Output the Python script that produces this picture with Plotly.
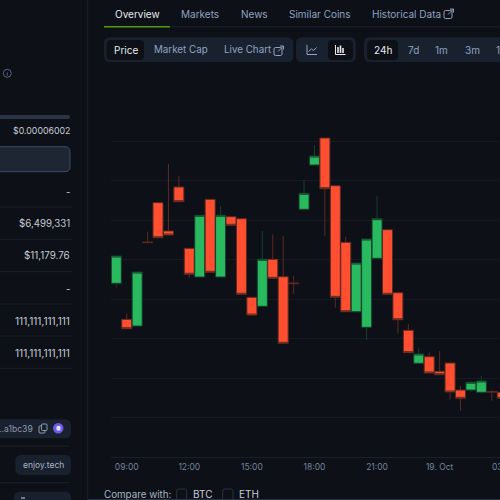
# 30 minute candles, top nav and the right edge of the side panel around them

import pandas as pd
import plotly.graph_objects as go

candle_times = pd.date_range('2023-10-18 08:30', periods=38, freq='30min')

# prices in chart units, one grid line every 40
opens = [176.1, 139.6, 132.8, 218.0, 257.9, 229.2, 273.8, 211.6, 182.5, 261.3,
         182.5, 243.7, 241.7, 161.9, 152.8, 200.5, 182.8, 176.5, 251.2, 296.1,
         323.5, 275.1, 217.7, 147.3, 131.5, 201.5, 230.5, 166.6, 128.5, 95.0,
         101.7, 86.9, 95.3, 67.9, 67.9, 65.6, 66.5, 65.6]
highs = [203.8, 145.7, 187.6, 228.5, 257.9, 297.1, 285.0, 211.6, 245.1, 261.3,
         254.5, 243.7, 241.7, 161.9, 229.2, 225.8, 224.1, 183.6, 280.9, 316.4,
         323.5, 275.1, 223.4, 196.7, 221.1, 265.0, 230.5, 166.6, 134.9, 110.2,
         105.8, 107.5, 95.3, 72.0, 75.8, 82.1, 67.9, 65.6]
lows = [171.7, 130.1, 132.8, 217.4, 222.4, 225.1, 258.9, 181.8, 182.5, 187.3,
        182.5, 235.0, 165.0, 144.0, 152.8, 181.2, 115.3, 165.3, 251.2, 296.1,
        224.1, 151.4, 147.3, 147.3, 118.6, 201.5, 165.0, 125.4, 105.8, 95.0,
        85.2, 83.5, 58.1, 47.0, 65.9, 65.6, 57.1, 59.5]
closes = [203.8, 130.1, 187.6, 217.4, 222.4, 225.1, 258.9, 185.3, 245.1, 187.3,
          245.1, 235.0, 165.0, 144.0, 200.5, 181.2, 115.3, 175.8, 267.4, 305.2,
          272.1, 161.9, 147.3, 196.7, 221.1, 241.7, 165.0, 139.2, 105.8, 104.5,
          85.2, 83.5, 65.9, 59.5, 75.8, 77.1, 65.9, 59.5]

tick_times = ['2023-10-18 09:00', '2023-10-18 12:00', '2023-10-18 15:00',
              '2023-10-18 18:00', '2023-10-18 21:00', '2023-10-19 00:00']
tick_labels = ['09:00', '12:00', '15:00', '18:00', '21:00', '19. Oct']

BG = '#0d1017'
PANEL = '#1a212e'
LINE = '#1b2029'
ICON = '#8fa3c2'
FONT = 'Inter, "Noto Sans", sans-serif'


def px(x):
    return x / 500


def py(y):
    return 1 - y / 500


def box(x0, y0, x1, y1, fill, r=0, stroke=None, width=1):
    # rounded rectangle given in screen pixels
    a0, a1, b0, b1 = px(x0), px(x1), py(y0), py(y1)
    rx, ry = r / 500, r / 500
    path = (f'M {a0 + rx} {b0} L {a1 - rx} {b0} Q {a1} {b0} {a1} {b0 - ry} '
            f'L {a1} {b1 + ry} Q {a1} {b1} {a1 - rx} {b1} L {a0 + rx} {b1} '
            f'Q {a0} {b1} {a0} {b1 + ry} L {a0} {b0 - ry} Q {a0} {b0} {a0 + rx} {b0} Z')
    return dict(type='path', path=path, xref='paper', yref='paper', fillcolor=fill,
                line=dict(color=stroke if stroke else fill, width=width if stroke else 0),
                layer='below')


def seg(x0, y0, x1, y1, color=LINE, width=1):
    return dict(type='line', x0=px(x0), y0=py(y0), x1=px(x1), y1=py(y1), xref='paper',
                yref='paper', line=dict(color=color, width=width), layer='below')


def label(x, y, text, color='#8fa3c2', size=10, anchor='left'):
    return dict(x=px(x), y=py(y), xref='paper', yref='paper', text=text, showarrow=False,
                xanchor=anchor, yanchor='middle', borderpad=0, borderwidth=0,
                font=dict(family=FONT, size=size, color=color))


def link_icon(x, y, color=ICON):
    return [box(x, y + 1.5, x + 8, y + 9.5, 'rgba(0,0,0,0)', 1.5, color, 1),
            seg(x + 4, y + 5.5, x + 9.5, y, color),
            seg(x + 6, y, x + 9.5, y, color),
            seg(x + 9.5, y, x + 9.5, y + 3.5, color)]


fig = go.Figure()
fig.add_trace(go.Candlestick(
    x=candle_times, open=opens, high=highs, low=lows, close=closes,
    increasing=dict(line=dict(color='#15412d', width=1), fillcolor='#29b95f'),
    decreasing=dict(line=dict(color='#5c2a20', width=1), fillcolor='#ff4f30'),
    whiskerwidth=0, showlegend=False,
))

shapes = [
    seg(87.7, 0, 87.7, 500),
    seg(104, 26.7, 500, 26.7),
    seg(104, 26.7, 170, 26.7, '#4f9a12', 1.6),
    # tool bar
    box(104, 37.3, 293.3, 62, PANEL, 6),
    box(106.7, 40, 144, 60, BG, 4),
    box(296, 37.3, 355.7, 62, PANEL, 6),
    box(328, 40, 353, 60, BG, 4),
    box(364, 37.3, 505, 62, PANEL, 6),
    box(367.3, 40, 398, 60, BG, 4),
    # line chart icon
    seg(307, 45, 307, 54.5, ICON), seg(307, 54.5, 317, 54.5, ICON),
    seg(308.5, 51.5, 311.5, 49, ICON), seg(311.5, 49, 313.5, 50.5, ICON),
    seg(313.5, 50.5, 316.5, 47.5, ICON),
    # candle icon
    seg(335.5, 45, 335.5, 54.5, '#e6e9ef'), seg(335.5, 54.5, 345.5, 54.5, '#e6e9ef'),
    seg(338, 47, 338, 53, '#e6e9ef', 1.6), seg(340.5, 45.5, 340.5, 53, '#e6e9ef', 1.6),
    seg(343, 48, 343, 53, '#e6e9ef', 1.6),
    # side panel
    box(-6, 115, 70, 119, '#2a3446', 2),
    box(-6, 146.7, 70, 171.7, '#1e2633', 5, '#3c4c69', 1),
    seg(0, 207, 72, 207), seg(0, 239.3, 72, 239.3), seg(0, 271.7, 72, 271.7),
    seg(0, 304, 72, 304), seg(0, 336, 72, 336), seg(0, 368.3, 72, 368.3),
    seg(0, 446, 70, 446), seg(0, 482.7, 70, 482.7),
    box(-6, 419.3, 71, 438.3, PANEL, 6),
    box(15.3, 455, 71, 475, PANEL, 6),
    box(14, 491.7, 71, 506, PANEL, 6),
    seg(21, 498, 25, 498, '#c6ccd6'),
    dict(type='circle', x0=px(3.3), y0=py(77.3), x1=px(11.3), y1=py(69.3), xref='paper',
         yref='paper', line=dict(color='#55657e', width=1), layer='below'),
    seg(7.3, 72.5, 7.3, 75.5, '#55657e'),
    # copy and chain icons
    box(39, 426, 45, 433, 'rgba(0,0,0,0)', 1, '#8d99ab', 1),
    box(41.5, 424, 47, 430.5, PANEL, 1, '#8d99ab', 1),
    dict(type='circle', x0=px(53), y0=py(433.5), x1=px(63.5), y1=py(423), xref='paper',
         yref='paper', fillcolor='#6d5be8', line=dict(width=0), layer='below'),
    box(56.5, 426, 60.5, 430.5, '#e4e2fb', 1),
    # compare row
    box(176.7, 489, 186.7, 505, BG, 2, '#2a3240', 1),
    box(222.7, 489, 233, 505, BG, 2, '#2a3240', 1),
    seg(88, 499.5, 500, 499.5, '#2a3240'),
]
shapes += link_icon(444, 9)
shapes += link_icon(274, 46)

annotations = [
    label(115.3, 14, 'Overview', '#e6e9ef'),
    label(181.3, 14, 'Markets'),
    label(240.7, 14, 'News'),
    label(289, 14, 'Similar Coins'),
    label(371.7, 14, 'Historical Data'),
    label(113.7, 50, 'Price', '#e6e9ef'),
    label(154, 50, 'Market Cap', size=9.8),
    label(223.7, 50, 'Live Chart', size=9.8),
    label(374, 50, '24h', '#e6e9ef'),
    label(408, 50, '7d'),
    label(435.3, 50, '1m'),
    label(464.7, 50, '3m'),
    label(495.7, 50, '1y'),
    label(70, 130, '$0.00006002', '#c6ccd6', 8.8, 'right'),
    label(70, 191.7, '-', '#c6ccd6', 9.5, 'right'),
    label(70, 223.3, '$6,499,331', '#c6ccd6', 9.7, 'right'),
    label(70, 255.7, '$11,179.76', '#c6ccd6', 9.8, 'right'),
    label(70, 288.3, '-', '#c6ccd6', 9.5, 'right'),
    label(70, 320.7, '111,111,111,111', '#c6ccd6', 10, 'right'),
    label(70, 352.7, '111,111,111,111', '#c6ccd6', 10, 'right'),
    label(32.5, 428.5, '..a1bc39', '#8d99ab', 8.6, 'right'),
    label(43, 465, 'enjoy.tech', '#a9b3c2', 8.5, 'center'),
    label(503.6, 466.7, '03:00', '#73829a', 8.5, 'center'),
    label(104, 494, 'Compare with:', '#a9b3c2', 9.8),
    label(193, 494, 'BTC', '#c6ccd6', 10),
    label(239, 494, 'ETH', '#c6ccd6', 10),
]

fig.update_layout(
    width=500, height=500, margin=dict(l=0, r=0, t=0, b=0),
    paper_bgcolor=BG, plot_bgcolor=BG, boxgap=0, boxgroupgap=0.04,
    shapes=shapes, annotations=annotations,
    xaxis=dict(domain=[px(111), 1], range=['2023-10-18 08:14:48', '2023-10-19 02:53:36'],
               tickmode='array', tickvals=tick_times, ticktext=tick_labels,
               tickfont=dict(family=FONT, size=8.5, color='#73829a'), ticks='', ticklabelstandoff=2,
               showgrid=False, showline=True, linecolor='#1a1f28', linewidth=1,
               rangeslider=dict(visible=False), zeroline=False),
    yaxis=dict(domain=[py(457), py(102)], range=[0, 360], dtick=40, showticklabels=False,
               gridcolor='#161a22', gridwidth=1, zeroline=False, ticks=''),
)

# opacity just under 1 keeps the small labels grey instead of colour fringed
fig.write_html('out.html', config=dict(displayModeBar=False),
               post_script="document.body.style.margin='0';document.body.style.background='#0d1017';document.body.style.overflow='hidden';document.querySelector('.plotly-graph-div').style.opacity='0.999';")
